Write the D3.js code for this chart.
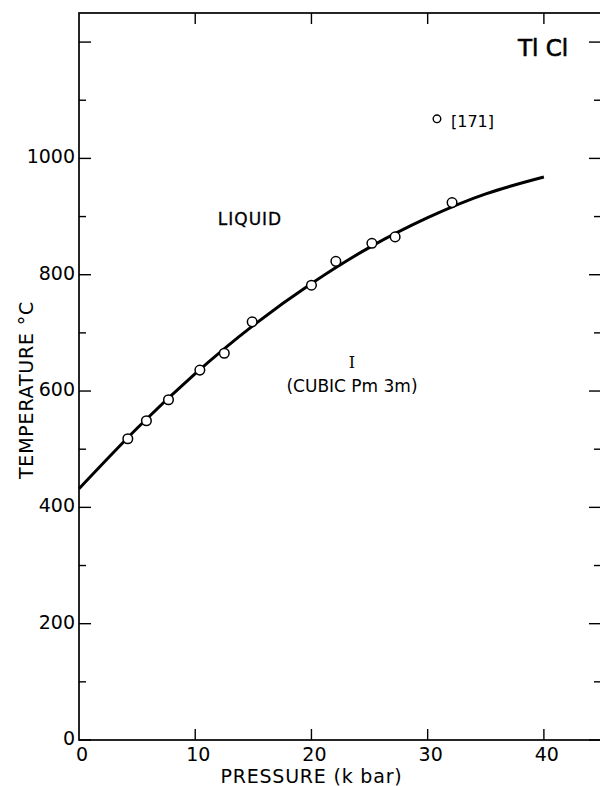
<!DOCTYPE html>
<html>
<head>
<meta charset="utf-8">
<script src="https://cdn.jsdelivr.net/npm/d3@7"></script>
<style>
  body { margin: 0; background: #fff; }
  svg text { font-family: "DejaVu Sans", sans-serif; fill: #000; }
</style>
</head>
<body>
<div id="chart"></div>
<script>
// measured melting points (pressure kbar, temperature C)
var pressure = [4.2, 5.8, 7.7, 10.4, 12.5, 14.9, 20.0, 22.1, 25.2, 27.2, 32.1];
var temperature = [518, 549, 585, 636, 665, 719, 782, 823, 854, 865, 924];

// melting curve
var curveP = [0, 5, 10, 15, 20, 25, 30, 35, 40];
var curveT = [432, 536, 630, 713, 785, 847, 898, 939, 968];

// separate point from reference [171]
var refP = [30.8];
var refT = [1068];

var xTicks = [0, 10, 20, 30, 40];
var yTicks = [0, 200, 400, 600, 800, 1000];

var width = 600, height = 786;
var margin = {top: 13, right: -2, bottom: 46, left: 79};

var svg = d3.select("#chart").append("svg")
    .attr("width", width)
    .attr("height", height);

var x = d3.scaleLinear().domain([0, 45]).range([margin.left, width - margin.right]);
var y = d3.scaleLinear().domain([0, 1250]).range([height - margin.bottom, margin.top]);

// frame
svg.append("rect")
    .attr("x", x(0)).attr("y", y(1250))
    .attr("width", x(45) - x(0)).attr("height", y(0) - y(1250))
    .style("fill", "none").style("stroke", "#000").style("stroke-width", 1.7);

// ticks all point inward
var yMinor = d3.range(0, 1201, 100);
svg.selectAll("line.ytl").data(yMinor).enter().append("line")
    .attr("x1", x(0)).attr("x2", function (d) { return x(0) + (d % 200 ? 7 : 12); })
    .attr("y1", y).attr("y2", y)
    .style("stroke", "#000").style("stroke-width", 1.4);
svg.selectAll("line.ytr").data(yMinor).enter().append("line")
    .attr("x1", x(45)).attr("x2", function (d) { return x(45) - (d % 200 ? 8 : 13); })
    .attr("y1", y).attr("y2", y)
    .style("stroke", "#000").style("stroke-width", 1.4);
svg.selectAll("line.xtb").data(xTicks.slice(1)).enter().append("line")
    .attr("x1", x).attr("x2", x)
    .attr("y1", y(0)).attr("y2", y(0) - 11)
    .style("stroke", "#000").style("stroke-width", 1.4);
svg.selectAll("line.xtt").data(xTicks.slice(1)).enter().append("line")
    .attr("x1", x).attr("x2", x)
    .attr("y1", y(1250)).attr("y2", y(1250) + 11)
    .style("stroke", "#000").style("stroke-width", 1.4);

// tick labels
svg.selectAll("text.yl").data(yTicks).enter().append("text")
    .attr("x", x(0) - 4)
    .attr("y", function (d) { return y(d) + 5; })
    .attr("text-anchor", "end")
    .style("font-size", "19px")
    .text(function (d) { return d; });
svg.selectAll("text.xl").data(xTicks).enter().append("text")
    .attr("x", function (d) { return x(d) + 3; })
    .attr("y", y(0) + 21)
    .attr("text-anchor", "middle")
    .style("font-size", "19px")
    .text(function (d) { return d; });

// axis titles
svg.append("text")
    .attr("x", x(20)).attr("y", 783)
    .attr("text-anchor", "middle")
    .style("font-size", "19px").style("letter-spacing", "0.8px")
    .text("PRESSURE (k bar)");
svg.append("text")
    .attr("transform", "translate(33,390)rotate(-90)")
    .attr("text-anchor", "middle")
    .style("font-size", "19px").style("letter-spacing", "0.8px")
    .text("TEMPERATURE \u00b0C");

// melting curve
var line = d3.line()
    .x(function (d, i) { return x(curveP[i]); })
    .y(function (d) { return y(d); })
    .curve(d3.curveNatural);
svg.append("path")
    .attr("d", line(curveT))
    .style("fill", "none").style("stroke", "#000").style("stroke-width", 3);

svg.selectAll("circle.pt").data(temperature).enter().append("circle")
    .attr("cx", function (d, i) { return x(pressure[i]); })
    .attr("cy", function (d) { return y(d); })
    .attr("r", 4.8)
    .style("fill", "#fff").style("stroke", "#000").style("stroke-width", 1.5);

svg.selectAll("circle.ref").data(refT).enter().append("circle")
    .attr("cx", function (d, i) { return x(refP[i]); })
    .attr("cy", function (d) { return y(d); })
    .attr("r", 3.8)
    .style("fill", "#fff").style("stroke", "#000").style("stroke-width", 1.4);
svg.append("text")
    .attr("x", x(refP[0]) + 14).attr("y", y(refT[0]) + 8)
    .style("font-size", "16px")
    .text("[171]");

// region labels
svg.append("text")
    .attr("x", 543).attr("y", 56)
    .attr("text-anchor", "middle")
    .style("font-size", "23px").style("stroke", "#000").style("stroke-width", 0.6)
    .text("Tl Cl");
svg.append("text")
    .attr("x", 250).attr("y", 225)
    .attr("text-anchor", "middle")
    .style("font-size", "17px").style("letter-spacing", "1px")
    .style("stroke", "#000").style("stroke-width", 0.3)
    .text("LIQUID");
svg.append("text")
    .attr("x", 352).attr("y", 368)
    .attr("text-anchor", "middle")
    .style("font-family", "'DejaVu Serif', serif")
    .style("font-size", "16px")
    .text("I");
svg.append("text")
    .attr("x", 352).attr("y", 392)
    .attr("text-anchor", "middle")
    .style("font-size", "17px")
    .text("(CUBIC  Pm 3m)");
</script>
</body>
</html>
